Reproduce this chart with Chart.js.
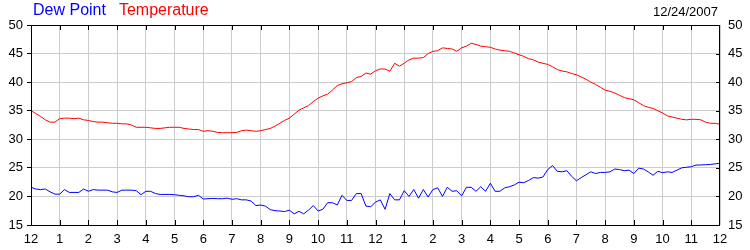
<!DOCTYPE html>
<html>
<head>
<meta charset="utf-8">
<script src="https://cdn.jsdelivr.net/npm/chart.js@4.4.1/dist/chart.umd.min.js"></script>
<style>
  body { margin: 0; background: #fff; }
  #wrap { position: relative; width: 750px; height: 250px; font-family: "Liberation Sans", Arial, sans-serif; }
  #legend { position: absolute; left: 33px; top: 1px; font-size: 16px; white-space: nowrap; }
  #legend span { margin-right: 13px; }
  #date { position: absolute; right: 32px; top: 4px; font-size: 13px; color: #000; }
</style>
</head>
<body>
<div id="wrap">
  <canvas id="graph" width="750" height="250"></canvas>
  <div id="legend"><span style="color:#0000ff">Dew Point</span><span style="color:#ff0000">Temperature</span></div>
  <div id="date">12/24/2007</div>
</div>
<script>
// tick labels for each hour of the day
const hourLabels = ['12','1','2','3','4','5','6','7','8','9','10','11','12','1','2','3','4','5','6','7','8','9','10','11','12'];

// readings every 10 minutes, midnight to midnight
const temperature = [
  35.0, 34.5, 34.0, 33.4, 33.0, 33.0, 33.6, 33.7, 33.7, 33.6, 33.7, 33.4,
  33.3, 33.1, 33.0, 33.0, 32.9, 32.8, 32.8, 32.7, 32.7, 32.5, 32.1, 32.1,
  32.1, 32.0, 31.9, 31.9, 32.0, 32.1, 32.1, 32.1, 31.9, 31.8, 31.7, 31.7,
  31.4, 31.5, 31.4, 31.2, 31.15, 31.15, 31.15, 31.2, 31.5, 31.6, 31.5, 31.4,
  31.5, 31.7, 31.9, 32.3, 32.8, 33.3, 33.7, 34.4, 35.1, 35.5, 35.9, 36.6,
  37.2, 37.6, 37.9, 38.6, 39.4, 39.7, 39.9, 40.1, 40.8, 41.0, 41.6, 41.4,
  42.0, 42.3, 42.3, 41.9, 43.3, 42.8, 43.3, 43.9, 44.2, 44.2, 44.3, 45.0,
  45.4, 45.5, 46.0, 45.9, 45.8, 45.4, 46.0, 46.3, 46.8, 46.6, 46.3, 46.2,
  46.1, 45.8, 45.6, 45.5, 45.4, 45.1, 44.8, 44.5, 44.1, 43.9, 43.5, 43.3,
  43.1, 42.7, 42.2, 41.95, 41.8, 41.5, 41.3, 40.9, 40.5, 40.0, 39.6, 39.1,
  38.6, 38.4, 38.1, 37.7, 37.3, 37.1, 36.9, 36.4, 35.9, 35.6, 35.4, 35.0,
  34.6, 34.1, 33.9, 33.7, 33.5, 33.4, 33.5, 33.5, 33.4, 33.0, 32.8, 32.8,
  32.6
];

const dewPoint = [
  21.6, 21.3, 21.2, 21.3, 20.8, 20.4, 20.4, 21.2, 20.7, 20.7, 20.7, 21.3,
  20.9, 21.2, 21.1, 21.1, 21.1, 20.8, 20.7, 21.1, 21.1, 21.1, 21.0, 20.3,
  20.9, 20.9, 20.5, 20.35, 20.35, 20.35, 20.3, 20.2, 20.1, 19.95, 19.95, 20.2,
  19.55, 19.6, 19.65, 19.6, 19.6, 19.7, 19.5, 19.6, 19.4, 19.4, 19.2, 18.4,
  18.5, 18.3, 17.7, 17.5, 17.45, 17.35, 17.6, 16.95, 17.4, 16.95, 17.6, 18.4,
  17.45, 17.75, 18.9, 18.9, 18.5, 20.2, 19.3, 19.3, 20.5, 20.5, 18.3, 18.2,
  19.0, 19.4, 17.75, 20.5, 19.4, 19.4, 21.0, 20.0, 21.2, 19.7, 21.2, 19.9,
  21.2, 21.5, 20.0, 21.6, 20.9, 21.0, 20.1, 21.6, 21.6, 20.9, 21.7, 20.9,
  22.3, 20.9, 20.9, 21.5, 21.7, 22.0, 22.5, 22.4, 22.8, 23.3, 23.2, 23.4,
  24.7, 25.4, 24.4, 24.3, 24.5, 23.5, 22.75, 23.3, 23.8, 24.3, 24.0, 24.2,
  24.2, 24.3, 24.8, 24.7, 24.5, 24.6, 24.0, 24.95, 24.8, 24.3, 23.7, 24.4,
  24.15, 24.3, 24.2, 24.6, 25.0, 25.1, 25.2, 25.5, 25.5, 25.55, 25.6, 25.7,
  25.8
];

function toPoints(arr) {
  return arr.map(function (v, i) { return { x: i / 6, y: v }; });
}

// frame and the inward tick marks
const framePlugin = {
  id: 'frame',
  afterDraw: function (chart) {
    const ctx = chart.ctx;
    const a = chart.chartArea;
    const sx = chart.scales.x;
    const sy = chart.scales.y;
    ctx.save();
    ctx.strokeStyle = '#000';
    ctx.lineWidth = 1;
    ctx.beginPath();
    for (let h = 1; h < 24; h++) {
      const x = Math.round(sx.getPixelForValue(h)) + 0.5;
      ctx.moveTo(x, a.top); ctx.lineTo(x, a.top + 5);
      ctx.moveTo(x, a.bottom); ctx.lineTo(x, a.bottom - 5);
    }
    for (let v = 20; v < 50; v += 5) {
      const y = Math.round(sy.getPixelForValue(v)) + 0.5;
      ctx.moveTo(a.right, y); ctx.lineTo(a.right - 4, y);
    }
    ctx.stroke();
    ctx.strokeRect(Math.round(a.left) + 0.5, Math.round(a.top) + 0.5,
      Math.round(a.right - a.left) - 1, Math.round(a.bottom - a.top));
    ctx.restore();
  }
};

const tickFont = { family: '"Liberation Sans", Arial, sans-serif', size: 13 };

new Chart(document.getElementById('graph'), {
  type: 'line',
  data: {
    datasets: [
      {
        label: 'Temperature',
        data: toPoints(temperature),
        borderColor: '#ff0000',
        borderWidth: 1,
        pointRadius: 0,
        tension: 0
      },
      {
        label: 'Dew Point',
        data: toPoints(dewPoint),
        borderColor: '#0000ff',
        borderWidth: 1,
        pointRadius: 0,
        tension: 0
      }
    ]
  },
  options: {
    responsive: false,
    animation: false,
    layout: { padding: { top: 25, left: 0, right: 0, bottom: 0 } },
    plugins: { legend: { display: false }, tooltip: { enabled: false } },
    scales: {
      x: {
        type: 'linear',
        min: 0,
        max: 24,
        afterFit: function (s) { s.height = 25; },
        ticks: {
          stepSize: 1,
          autoSkip: false,
          maxRotation: 0,
          padding: 7,
          color: '#000',
          font: tickFont,
          callback: function (v) { return hourLabels[v]; }
        },
        grid: { color: '#cccccc', drawTicks: false },
        border: { display: false }
      },
      y: {
        min: 15,
        max: 50,
        afterFit: function (s) { s.width = 31; },
        ticks: { stepSize: 5, padding: 4, color: '#000', font: tickFont },
        grid: { color: '#cccccc', tickLength: 4, tickColor: '#000' },
        border: { display: false }
      },
      y2: {
        position: 'right',
        min: 15,
        max: 50,
        afterFit: function (s) { s.width = 30; },
        ticks: { stepSize: 5, padding: 8, color: '#000', font: tickFont },
        grid: { display: false, drawTicks: false },
        border: { display: false }
      }
    }
  },
  plugins: [framePlugin]
});
</script>
</body>
</html>
